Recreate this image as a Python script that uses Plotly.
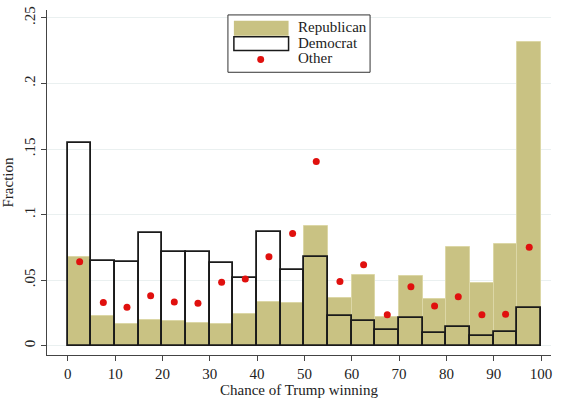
import plotly.graph_objects as go

bin_centers = [2.5, 7.5, 12.5, 17.5, 22.5, 27.5, 32.5, 37.5, 42.5, 47.5,
               52.5, 57.5, 62.5, 67.5, 72.5, 77.5, 82.5, 87.5, 92.5, 97.5]
republican = [0.068, 0.0226, 0.0166, 0.0196, 0.0189, 0.0176, 0.0163, 0.0239, 0.0332, 0.0324,
              0.091, 0.0367, 0.0543, 0.0221, 0.0533, 0.0354, 0.0752, 0.048, 0.0777, 0.2313]
democrat = [0.1546, 0.0643, 0.0636, 0.0857, 0.0719, 0.0719, 0.0628, 0.052, 0.087, 0.0576,
            0.0679, 0.0229, 0.0186, 0.0123, 0.0209, 0.0098, 0.0141, 0.0078, 0.0108, 0.0289]
other = [0.0641, 0.033, 0.0294, 0.0382, 0.0334, 0.0324, 0.0485, 0.051, 0.0679, 0.0857,
         0.1405, 0.049, 0.0618, 0.0236, 0.045, 0.0304, 0.0375, 0.0236, 0.0241, 0.0752]
series_names = ["Republican", "Democrat", "Other"]
x_ticks = [0, 10, 20, 30, 40, 50, 60, 70, 80, 90, 100]
y_ticks = [0, 0.05, 0.1, 0.15, 0.2, 0.25]
y_labels = ["0", ".05", ".1", ".15", ".2", ".25"]

font = "Liberation Serif, Times New Roman, serif"
TAN = "#c9c283"
RED = "#e0100e"
DARK = "#1a1a1a"

fig = go.Figure()
fig.add_trace(go.Bar(
    x=bin_centers, y=republican, width=5, name=series_names[0],
    marker=dict(color=TAN, line=dict(color="#dcd7a6", width=1)),
))
fig.add_trace(go.Bar(
    x=bin_centers, y=democrat, width=5, name=series_names[1],
    marker=dict(color="rgba(255,255,255,0)", line=dict(color=DARK, width=1.8)),
))
fig.add_trace(go.Scatter(
    x=bin_centers, y=other, mode="markers", name=series_names[2],
    marker=dict(color=RED, size=7),
))

# Manual legend (Stata style) in paper coordinates
shapes = [
    dict(type="rect", xref="paper", yref="paper", x0=0.359, x1=0.641, y0=0.8195, y1=0.9857,
         line=dict(color="#333", width=1), fillcolor="white", layer="above"),
    dict(type="rect", xref="paper", yref="paper", x0=0.3708, x1=0.4793, y0=0.9255, y1=0.9685,
         line=dict(width=0), fillcolor=TAN, layer="above"),
    dict(type="rect", xref="paper", yref="paper", x0=0.3708, x1=0.4793, y0=0.8825, y1=0.9226,
         line=dict(color=DARK, width=1.5), fillcolor="white", layer="above"),
    dict(type="circle", xref="paper", yref="paper", x0=0.424 - 0.0069, x1=0.424 + 0.0069,
         y0=0.8567 - 0.01, y1=0.8567 + 0.01, line=dict(width=0), fillcolor=RED, layer="above"),
]
annotations = [
    dict(text=series_names[0], xref="paper", yref="paper", x=0.497, y=0.951,
         xanchor="left", yanchor="middle", showarrow=False, borderpad=0,
         font=dict(family=font, size=15, color="#222")),
    dict(text=series_names[1], xref="paper", yref="paper", x=0.497, y=0.905,
         xanchor="left", yanchor="middle", showarrow=False, borderpad=0,
         font=dict(family=font, size=15, color="#222")),
    dict(text=series_names[2], xref="paper", yref="paper", x=0.497, y=0.862,
         xanchor="left", yanchor="middle", showarrow=False, borderpad=0,
         font=dict(family=font, size=15, color="#222")),
]

fig.update_layout(
    width=563, height=399,
    margin=dict(l=44, r=12, t=6, b=44),
    paper_bgcolor="white", plot_bgcolor="white",
    barmode="overlay", bargap=0,
    font=dict(family=font, size=15, color="#222"),
    showlegend=False,
    shapes=shapes, annotations=annotations,
    xaxis=dict(range=[-4.4, 102.1], tickvals=x_ticks, showgrid=False, zeroline=False,
               showline=True, linecolor="#444", linewidth=1,
               ticks="outside", ticklen=5, tickcolor="#444",
               title=dict(text="Chance of Trump winning", standoff=0,
                          font=dict(family=font, size=15))),
    yaxis=dict(range=[-0.007, 0.256], tickvals=y_ticks, ticktext=y_labels, tickangle=-90,
               showgrid=True, gridcolor="#eaf0f0", gridwidth=1, zeroline=False,
               showline=True, linecolor="#444", linewidth=1,
               ticks="outside", ticklen=5, tickcolor="#444",
               title=dict(text="Fraction", standoff=5, font=dict(family=font, size=15))),
)

fig.write_html("out.html", config={"displayModeBar": False},
               post_script="document.body.style.margin='0';document.body.style.overflow='hidden';")
